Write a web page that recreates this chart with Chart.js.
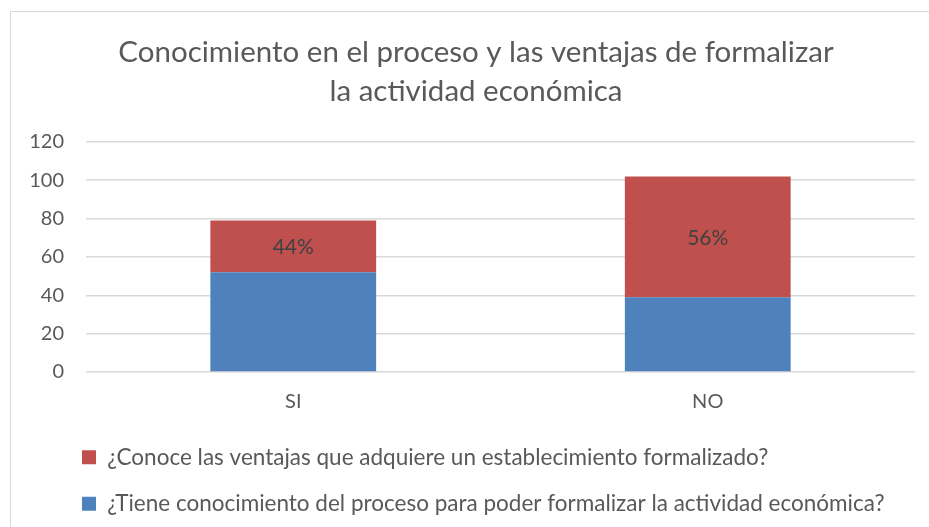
<!DOCTYPE html>
<html>
<head>
<meta charset="utf-8">
<script src="https://cdn.jsdelivr.net/npm/chart.js@4"></script>
<style>
  html, body { margin: 0; padding: 0; background: #fff; overflow: hidden; }
  #frame { position: absolute; left: 10px; top: 11px; width: 940px; height: 560px; border: 1.5px solid #d9d9d9; }
  #wrap { position: absolute; left: 0; top: 0; width: 929px; height: 550px; }
</style>
</head>
<body>
<div id="frame"></div>
<div id="wrap"><canvas id="myChart" width="929" height="550"></canvas></div>
<script>
const categories = ['SI', 'NO'];
const procesoValues = [52, 39];    // ¿Tiene conocimiento del proceso...?
const ventajasValues = [27, 63];   // ¿Conoce las ventajas...?
const pctLabels = ['44%', '56%'];
const titleLines = ['Conocimiento en el proceso y las ventajas de formalizar', 'la actividad económica'];
const yTicks = [0, 20, 40, 60, 80, 100, 120];

const FONT = "Lato, 'Open Sans', sans-serif";
const GREY = '#595959';

// the original chart frame is wider than the picture: re-center title, move legend in
const boxShift = {
  id: 'boxShift',
  afterLayout(chart) {
    const t = chart.titleBlock;
    const d = 476 - (t.left + t.right) / 2;
    t.left += d;
    t.right += d;
    const lg = chart.legend;
    lg.left = 82 - lg.options.labels.padding;
  }
};

// percentage labels inside the red segments
const pctPlugin = {
  id: 'pctPlugin',
  afterDatasetsDraw(chart) {
    const ctx = chart.ctx;
    const meta = chart.getDatasetMeta(1);
    ctx.save();
    ctx.font = '21px ' + FONT;
    ctx.fillStyle = '#404040';
    ctx.textAlign = 'center';
    ctx.textBaseline = 'middle';
    meta.data.forEach((bar, i) => {
      ctx.fillText(pctLabels[i], bar.x, (bar.y + bar.base) / 2 + 1);
    });
    ctx.restore();
  }
};

new Chart(document.getElementById('myChart'), {
  type: 'bar',
  data: {
    labels: categories,
    datasets: [
      {
        label: '¿Tiene conocimiento del proceso para poder formalizar la actividad económica?',
        data: procesoValues,
        backgroundColor: '#4f81bd'
      },
      {
        label: '¿Conoce las ventajas que adquiere un establecimiento formalizado?',
        data: ventajasValues,
        backgroundColor: '#c0504d'
      }
    ]
  },
  options: {
    responsive: false,
    animation: false,
    layout: { padding: { left: 10, right: 14, top: 0, bottom: 25 } },
    datasets: { bar: { categoryPercentage: 1, barPercentage: 0.4 } },
    scales: {
      x: {
        stacked: true,
        grid: { display: false },
        border: { display: false },
        ticks: { color: GREY, font: { family: FONT, size: 20 }, padding: 10 },
        afterFit(scale) { scale.height = 50; }
      },
      y: {
        stacked: true,
        min: 0,
        max: 120,
        afterBuildTicks(scale) { scale.ticks = yTicks.map(v => ({ value: v })); },
        grid: { color: '#d9d9d9', lineWidth: 1.5, drawTicks: false },
        border: { display: false },
        ticks: { color: GREY, font: { family: FONT, size: 20 }, padding: 22 },
        afterFit(scale) { scale.width = 76; }
      }
    },
    plugins: {
      title: {
        display: true,
        text: titleLines,
        color: GREY,
        font: { family: FONT, size: 29.5, weight: 'normal', lineHeight: 1.32 },
        padding: { top: 33, bottom: 31 }
      },
      legend: {
        position: 'bottom',
        align: 'start',
        reverse: true,
        labels: {
          color: GREY,
          font: { family: FONT, size: 22.5 },
          boxWidth: 14,
          boxHeight: 14,
          padding: 24
        }
      },
      tooltip: { enabled: false }
    }
  },
  plugins: [boxShift, pctPlugin]
});
</script>
</body>
</html>
